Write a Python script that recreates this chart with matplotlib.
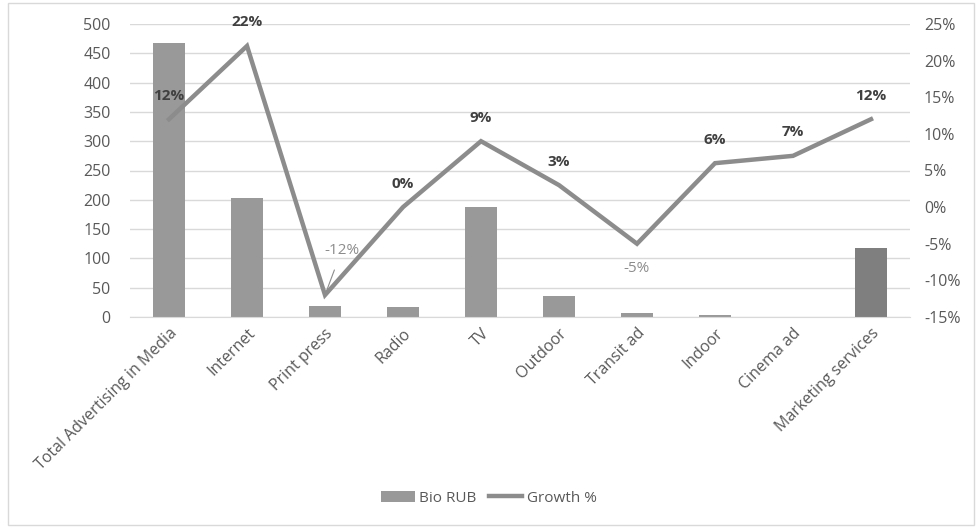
import matplotlib.pyplot as plt
from matplotlib.patches import Rectangle
from matplotlib.ticker import FuncFormatter

categorias = ['Total Advertising in Media', 'Internet', 'Print press', 'Radio', 'TV',
              'Outdoor', 'Transit ad', 'Indoor', 'Cinema ad', 'Marketing services']
bio_rub = [468, 203, 19, 17, 187, 36, 6, 3, 0.5, 117]
crescimento = [12, 22, -12, 0, 9, 3, -5, 6, 7, 12]

plt.rcParams['font.family'] = ['Open Sans', 'DejaVu Sans']

fig = plt.figure(figsize=(9.78, 5.28), dpi=100)
ax = fig.add_axes([130 / 978, 1 - 317 / 528, 780 / 978, 293 / 528])

# cores das barras (a ultima mais escura)
cores = ['#999999'] * (len(categorias) - 1) + ['#7f7f7f']
x = range(len(categorias))
barras = ax.bar(x, bio_rub, width=0.41, color=cores, zorder=2, label='Bio RUB')

ax.set_xlim(-0.5, len(categorias) - 0.5)
ax.set_ylim(0, 500)
ax.set_yticks(range(0, 501, 50))
ax.grid(axis='y', color='#d9d9d9', linewidth=1, zorder=0)
ax.set_axisbelow(True)
for lado in ['top', 'right', 'left']:
    ax.spines[lado].set_visible(False)
ax.spines['bottom'].set_color('#d9d9d9')
ax.tick_params(axis='both', length=0, labelsize=11.5, colors='#595959')
ax.tick_params(axis='y', pad=14)
ax.tick_params(axis='x', pad=6)
ax.set_xticks(list(x))
ax.set_xticklabels(categorias, rotation=45, ha='right', rotation_mode='anchor')

ax2 = ax.twinx()
ax2.set_ylim(-15, 25)
ax2.set_yticks(range(-15, 26, 5))
ax2.yaxis.set_major_formatter(FuncFormatter(lambda v, p: f'{v:.0f}%'))
for lado in ['top', 'right', 'left', 'bottom']:
    ax2.spines[lado].set_visible(False)
ax2.tick_params(axis='y', length=0, labelsize=11.5, colors='#595959', pad=10)
linha, = ax2.plot(list(x), crescimento, color='#8c8c8c', linewidth=3.2,
                  solid_joinstyle='miter', label='Growth %', zorder=3)

# rotulos dos valores
for i, v in enumerate(crescimento):
    if v < 0 and i == 6:
        ax2.annotate(f'{v}%', (i, v), xytext=(0, -18), textcoords='offset points',
                     ha='center', va='center', fontsize=11, color='#8c8c8c')
    elif v < 0:
        ax2.annotate(f'{v}%', (i, v), xytext=(12, 32), textcoords='offset points',
                     ha='center', va='center', fontsize=11, color='#8c8c8c',
                     arrowprops=dict(arrowstyle='-', color='#8c8c8c', lw=0.8,
                                     shrinkA=7, shrinkB=2))
    else:
        ax2.annotate(f'{v}%', (i, v), xytext=(0, 17), textcoords='offset points',
                     ha='center', va='center', fontsize=11, fontweight='bold',
                     color='#404040')

fig.legend([barras, linha], ['Bio RUB', 'Growth %'], loc='center',
           bbox_to_anchor=(0.5, 1 - 498 / 528), ncol=2, frameon=False,
           fontsize=11, labelcolor='#595959', handlelength=2.2, columnspacing=0.8,
           handletextpad=0.3)

# moldura externa
fig.patches.append(Rectangle((8 / 978, 3 / 528), 966 / 978, 522 / 528,
                             transform=fig.transFigure, fill=False,
                             edgecolor='#d9d9d9', linewidth=1))

fig.savefig('out.png', dpi=100)
